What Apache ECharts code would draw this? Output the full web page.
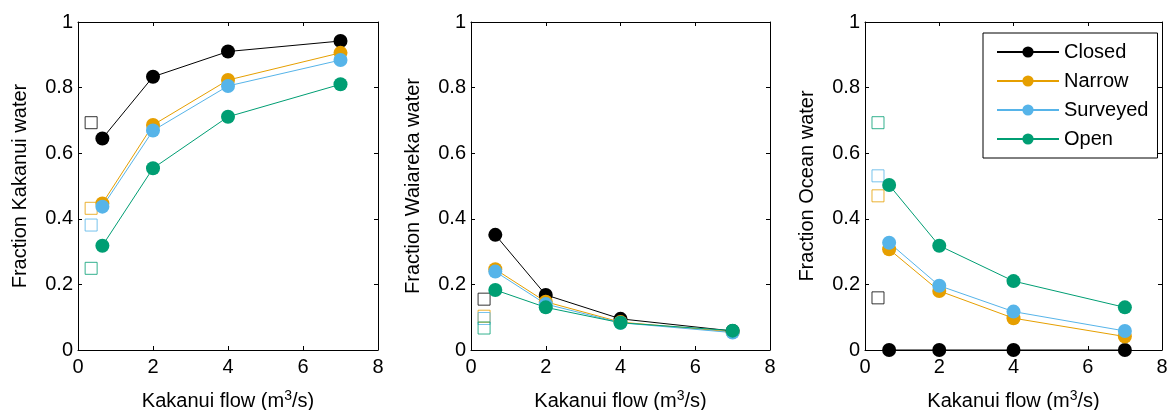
<!DOCTYPE html>
<html>
<head>
<meta charset="utf-8">
<script src="https://cdn.jsdelivr.net/npm/echarts@6/dist/echarts.min.js"></script>
<style>
  html, body { margin: 0; padding: 0; background: #fff; }
  #chart { width: 1168px; height: 410px; }
</style>
</head>
<body>
<div id="chart"></div>
<script>
// flows (m3/s) and the model results for each mouth state
var flows = [0.65, 2, 4, 7];
var squareX = 0.35;
var stateNames = ['Closed', 'Narrow', 'Surveyed', 'Open'];
var stateColors = ['#000000', '#E69F00', '#56B4E9', '#009E73'];
var panelTitles = ['Fraction Kakanui water', 'Fraction Waiareka water', 'Fraction Ocean water'];

var kakanuiClosed = [0.645, 0.833, 0.91, 0.942];
var kakanuiNarrow = [0.447, 0.686, 0.823, 0.906];
var kakanuiSurveyed = [0.437, 0.669, 0.805, 0.884];
var kakanuiOpen = [0.318, 0.554, 0.711, 0.81];
var kakanuiSquares = [0.693, 0.432, 0.381, 0.249];

var waiarekaClosed = [0.351, 0.168, 0.095, 0.058];
var waiarekaNarrow = [0.246, 0.147, 0.085, 0.055];
var waiarekaSurveyed = [0.239, 0.14, 0.083, 0.053];
var waiarekaOpen = [0.183, 0.13, 0.083, 0.059];
var waiarekaSquares = [0.155, 0.103, 0.096, 0.067];

var oceanClosed = [0, 0, 0, 0];
var oceanNarrow = [0.307, 0.18, 0.097, 0.041];
var oceanSurveyed = [0.327, 0.196, 0.117, 0.058];
var oceanOpen = [0.503, 0.318, 0.21, 0.13];
var oceanSquares = [0.159, 0.47, 0.531, 0.693];

var panelLines = [
	[kakanuiClosed, kakanuiNarrow, kakanuiSurveyed, kakanuiOpen],
	[waiarekaClosed, waiarekaNarrow, waiarekaSurveyed, waiarekaOpen],
	[oceanClosed, oceanNarrow, oceanSurveyed, oceanOpen]
];
var panelSquares = [kakanuiSquares, waiarekaSquares, oceanSquares];

var font = 'Liberation Sans, Arial, sans-serif';
var fs = 20;
var gridLefts = [78, 471, 865];
var gridWidths = [300, 299, 297];

var grids = [], xAxes = [], yAxes = [], series = [];

for (var g = 0; g < 3; g++) {
	grids.push({ left: gridLefts[g], top: 22, width: gridWidths[g], height: 328, outerBoundsMode: 'none', containLabel: false });

	// bottom + top x axes (box)
	xAxes.push({
		type: 'value', gridIndex: g, min: 0, max: 8, interval: 2,
		name: 'Kakanui flow (m{sup|3}/s)', nameLocation: 'middle', nameGap: 39,
		nameTextStyle: {
			fontFamily: font, fontSize: fs, color: '#000',
			rich: { sup: { fontFamily: font, fontSize: 14, color: '#000', verticalAlign: 'top', padding: [0, 0, 10, 0] } }
		},
		axisLine: { show: true, onZero: false, lineStyle: { color: '#000', width: 1 } },
		axisTick: { show: true, inside: true, length: 4, lineStyle: { color: '#000' } },
		axisLabel: { fontFamily: font, fontSize: fs, color: '#000', margin: 7 },
		splitLine: { show: false }
	});
	xAxes.push({
		type: 'value', gridIndex: g, min: 0, max: 8, interval: 2, position: 'top',
		axisLine: { show: true, onZero: false, lineStyle: { color: '#000', width: 1 } },
		axisTick: { show: true, inside: true, length: 4, lineStyle: { color: '#000' } },
		axisLabel: { show: false },
		splitLine: { show: false }
	});

	// left + right y axes
	yAxes.push({
		type: 'value', gridIndex: g, min: 0, max: 1, interval: 0.2,
		name: panelTitles[g], nameLocation: 'middle', nameGap: 48,
		nameTextStyle: { fontFamily: font, fontSize: fs, color: '#000' },
		axisLine: { show: true, onZero: false, lineStyle: { color: '#000', width: 1 } },
		axisTick: { show: true, inside: true, length: 4, lineStyle: { color: '#000' } },
		axisLabel: { fontFamily: font, fontSize: fs, color: '#000', margin: 5 },
		splitLine: { show: false }
	});
	yAxes.push({
		type: 'value', gridIndex: g, min: 0, max: 1, interval: 0.2, position: 'right',
		axisLine: { show: true, onZero: false, lineStyle: { color: '#000', width: 1 } },
		axisTick: { show: true, inside: true, length: 4, lineStyle: { color: '#000' } },
		axisLabel: { show: false },
		splitLine: { show: false }
	});

	/*---------- hollow squares (observed) ----------*/
	for (var s = 0; s < 4; s++) {
		series.push({
			name: 'obs' + g + s, type: 'scatter', xAxisIndex: g * 2, yAxisIndex: g * 2,
			symbol: 'rect', symbolSize: 12, silent: true,
			itemStyle: { color: 'rgba(255,255,255,0)', borderColor: stateColors[s], borderWidth: 1, opacity: 0.8 },
			data: [[squareX, panelSquares[g][s]]]
		});
	}

	/*---------- model lines ----------*/
	for (var s = 0; s < 4; s++) {
		var vals = panelLines[g][s];
		var pts = [];
		for (var i = 0; i < flows.length; i++) pts.push([flows[i], vals[i]]);
		series.push({
			name: stateNames[s], type: 'line', xAxisIndex: g * 2, yAxisIndex: g * 2,
			symbol: 'circle', symbolSize: 14, showSymbol: true, clip: false,
			lineStyle: { color: stateColors[s], width: 1 },
			itemStyle: { color: stateColors[s] },
			data: pts
		});
	}
}

var myChart = echarts.init(document.getElementById('chart'), null, { renderer: 'canvas' });
myChart.setOption({
	animation: false,
	backgroundColor: '#fff',
	grid: grids,
	xAxis: xAxes,
	yAxis: yAxes,
	legend: {
		data: stateNames,
		left: 983, top: 33,
		orient: 'vertical',
		itemWidth: 62, itemHeight: 14, itemGap: 9,
		padding: [9, 9, 9, 13],
		borderColor: '#000', borderWidth: 1,
		backgroundColor: '#fff',
		selectedMode: false,
		textStyle: { fontFamily: font, fontSize: fs, color: '#000' }
	},
	series: series
});
</script>
</body>
</html>
